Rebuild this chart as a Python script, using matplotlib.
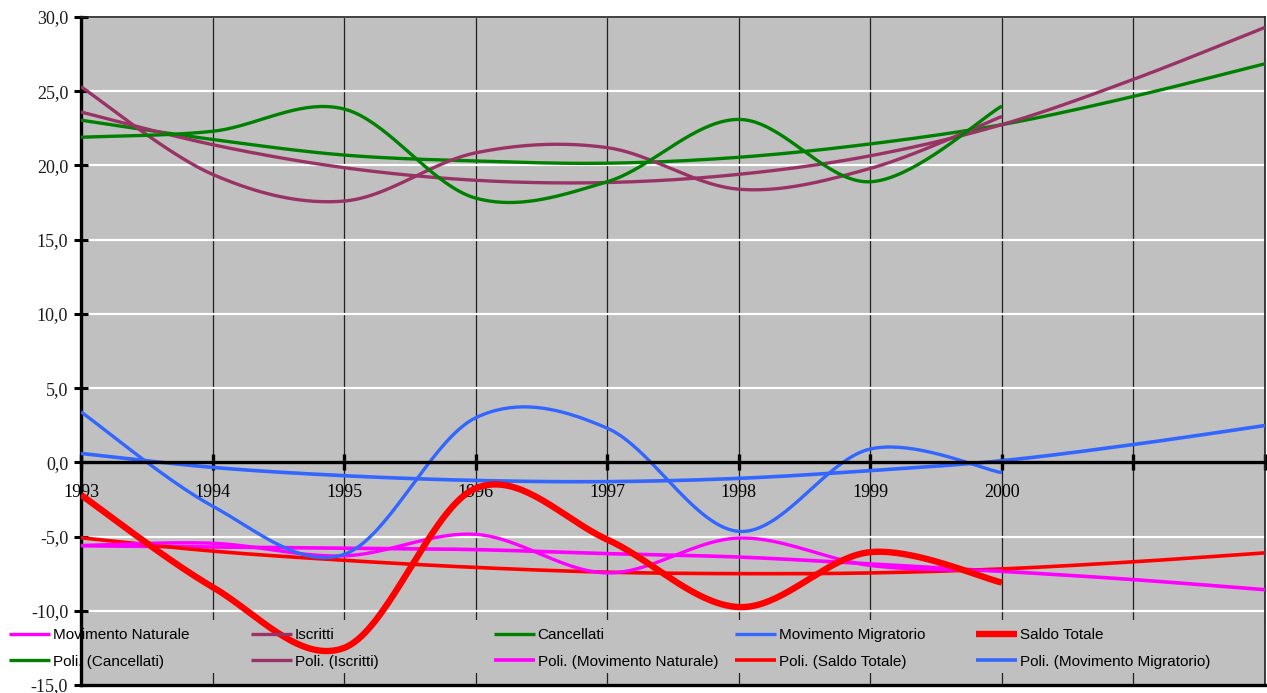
import numpy as np
import matplotlib
matplotlib.use("Agg")
from matplotlib import pyplot as plt

# ── data ──────────────────────────────────────────────────────────────
YEARS = [1993, 1994, 1995, 1996, 1997, 1998, 1999, 2000]
TREND_YEARS = [1993, 1994, 1995, 1996, 1997, 1998, 1999, 2000, 2001, 2002]
YEAR_LABELS = ["1993", "1994", "1995", "1996", "1997", "1998", "1999", "2000", "", ""]

mov_naturale = [-5.6, -5.45, -6.3, -4.85, -7.45, -5.1, -6.95, -7.3]
iscritti = [25.3, 19.4, 17.6, 20.85, 21.2, 18.4, 19.8, 23.3]
cancellati = [21.9, 22.3, 23.8, 17.8, 18.9, 23.1, 18.9, 24.0]
mov_migratorio = [3.4, -2.95, -6.2, 3.0, 2.3, -4.65, 0.9, -0.7]
saldo_totale = [-2.2, -8.4, -12.5, -1.75, -5.2, -9.75, -6.05, -8.1]

poli_cancellati = [23.05, 21.75, 20.7, 20.3, 20.15, 20.55, 21.45, 22.75, 24.65, 26.85]
poli_iscritti = [23.6, 21.4, 19.85, 19.0, 18.85, 19.4, 20.65, 22.75, 25.8, 29.3]
poli_naturale = [-5.62, -5.7, -5.78, -5.88, -6.15, -6.38, -6.84, -7.34, -7.9, -8.58]
poli_saldo = [-5.08, -5.98, -6.6, -7.08, -7.4, -7.5, -7.45, -7.18, -6.7, -6.1]
poli_migratorio = [0.6, -0.34, -0.9, -1.22, -1.3, -1.08, -0.56, 0.11, 1.2, 2.48]

MAGENTA = "#FF00FF"
PURPLE = "#993366"
GREEN = "#008000"
BLUE = "#3366FF"
RED = "#FF0000"
BG = "#C0C0C0"

W, H = 1267, 693


def smooth(xs, ys, n=40):
    """Excel-style smoothed line (Catmull-Rom drawn as cubic Bezier)."""
    p = np.column_stack([xs, ys]).astype(float)
    p = np.vstack([p[:1], p, p[-1:]])
    t = np.linspace(0, 1, n)[:, None]
    out = []
    for i in range(1, len(p) - 2):
        p0, p1, p2, p3 = p[i - 1], p[i], p[i + 1], p[i + 2]
        c1 = p1 + (p2 - p0) / 6.0
        c2 = p2 - (p3 - p1) / 6.0
        seg = ((1 - t) ** 3) * p1 + 3 * ((1 - t) ** 2) * t * c1 + 3 * (1 - t) * t ** 2 * c2 + t ** 3 * p2
        out.append(seg if i == 1 else seg[1:])
    out = np.vstack(out)
    return out[:, 0], out[:, 1]


fig = plt.figure(figsize=(W / 100, H / 100), dpi=100)
ax = fig.add_axes([81 / W, 8 / H, 1184 / W, 668 / H])
ax.set_facecolor(BG)
ax.set_xlim(1993, 2002)
ax.set_ylim(-15, 30)
ax.set_axisbelow(True)

# grid: white horizontals, dark verticals
ax.set_yticks(np.arange(-15, 31, 5))
ax.set_xticks(TREND_YEARS)
ax.grid(axis="y", color="white", lw=1.6)
ax.grid(axis="x", color="#202020", lw=0.9)

# background strip behind the legend (hides the grid there)
ax.axhspan(-14.2, -10.65, color=BG, lw=0, zorder=1)

kw = dict(solid_capstyle="butt", zorder=3)
series = [
    (mov_naturale, MAGENTA, 2.4, "Movimento Naturale"),
    (iscritti, PURPLE, 2.4, "Iscritti"),
    (cancellati, GREEN, 2.4, "Cancellati"),
    (mov_migratorio, BLUE, 2.4, "Movimento Migratorio"),
    (saldo_totale, RED, 4.6, "Saldo Totale"),
]
trends = [
    (poli_cancellati, GREEN, 2.4, "Poli. (Cancellati)"),
    (poli_iscritti, PURPLE, 2.4, "Poli. (Iscritti)"),
    (poli_naturale, MAGENTA, 2.6, "Poli. (Movimento Naturale)"),
    (poli_saldo, RED, 2.6, "Poli. (Saldo Totale)"),
    (poli_migratorio, BLUE, 2.6, "Poli. (Movimento Migratorio)"),
]

trend_lines = []
for vals, col, lw, lab in trends:
    sx, sy = smooth(TREND_YEARS, vals)
    (ln,) = ax.plot(sx, sy, color=col, lw=lw, label=lab, **kw)
    trend_lines.append(ln)

data_lines = []
for vals, col, lw, lab in series:
    sx, sy = smooth(YEARS, vals)
    (ln,) = ax.plot(sx, sy, color=col, lw=lw, label=lab, **kw)
    data_lines.append(ln)

# axes: left spine and x-axis through zero
for s in ["top", "right"]:
    ax.spines[s].set_color("#202020")
    ax.spines[s].set_linewidth(1.2)
ax.spines["left"].set_linewidth(2.4)
ax.spines["left"].set_color("black")
ax.spines["bottom"].set_position(("data", 0))
ax.spines["bottom"].set_linewidth(2.4)
ax.spines["bottom"].set_zorder(3.5)
ax.axhline(-15, color="black", lw=2.4, clip_on=False, zorder=4)

serif = "Liberation Serif"
ax.set_yticklabels([f"{v:.1f}".replace(".", ",") for v in np.arange(-15, 31, 5)],
                   fontfamily=serif, fontsize=13, color="#1a1a1a")
ax.tick_params(axis="y", direction="inout", length=9.5, width=2.2, pad=4.5, color="black")
ax.set_xticklabels(YEAR_LABELS, fontfamily=serif, fontsize=13, color="black")
ax.tick_params(axis="x", direction="inout", length=11.5, width=2.4, pad=9.5, color="black")

# legend: five columns of two rows, row-wise like the original
col_x = [9, 251, 494, 735, 976]
row_pairs = list(zip(data_lines, trend_lines))
for x0, (top, bot) in zip(col_x, row_pairs):
    lg = fig.legend([top, bot], [top.get_label(), bot.get_label()],
                    loc="center left", bbox_to_anchor=(x0 / W, (H - 648.5) / H),
                    frameon=False, borderpad=0, borderaxespad=0,
                    handlelength=2.7, handletextpad=0.15, labelspacing=0.8,
                    prop={"family": "Liberation Sans", "size": 11})
    lg.set_zorder(10)

fig.savefig("out.png", dpi=100)
